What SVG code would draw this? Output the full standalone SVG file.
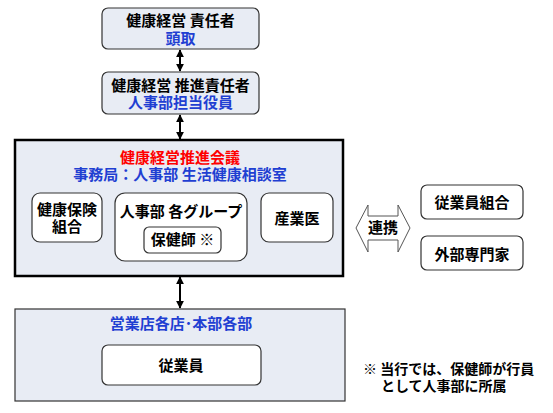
<svg xmlns="http://www.w3.org/2000/svg" width="553" height="413" viewBox="0 0 553 413">
<defs>
<marker id="ah" viewBox="0 0 10 10" refX="9" refY="5" markerWidth="8" markerHeight="8" markerUnits="userSpaceOnUse" orient="auto-start-reverse">
<path d="M0,0 L10,5 L0,10 z" fill="#000"/>
</marker>
</defs>
<style>
text{font-family:"Noto Sans CJK JP","Noto Sans",sans-serif;font-weight:bold;font-size:15px;text-anchor:middle;fill:#000}
.blue{fill:#1f3fd2}
.red{fill:#ff0000}
.tbox{fill:#e8ecf4;stroke:#333;stroke-width:1.2}
.wbox{fill:#fff;stroke:#333;stroke-width:1.2}
.conn{stroke:#000;stroke-width:2;fill:none;marker-start:url(#ah);marker-end:url(#ah)}
</style>
<rect width="553" height="413" fill="#fff"/>
<g id="connectors">
<line class="conn" x1="180" y1="50" x2="180" y2="71"/>
<line class="conn" x1="180" y1="115" x2="180" y2="139"/>
<line class="conn" x1="180" y1="277" x2="180" y2="308"/>
</g>
<g id="n-head">
<rect class="tbox" x="102" y="8" width="157" height="41" rx="6"/>
<text x="180.5" y="26">健康経営 責任者</text>
<text class="blue" x="180.5" y="44">頭取</text>
</g>
<g id="n-promo">
<rect class="tbox" x="102" y="72" width="157" height="42" rx="6"/>
<text x="180.5" y="91">健康経営 推進責任者</text>
<text class="blue" x="180.5" y="108">人事部担当役員</text>
</g>
<g id="n-council">
<rect x="15" y="140" width="328" height="136" fill="#e8ecf4" stroke="#000" stroke-width="2.5"/>
<text class="red" x="180" y="163">健康経営推進会議</text>
<text class="blue" x="180" y="180">事務局：人事部 生活健康相談室</text>
</g>
<g id="n-kenpo">
<rect class="wbox" x="32" y="193" width="70" height="49" rx="8"/>
<text x="67" y="215">健康保険</text>
<text x="67" y="232">組合</text>
</g>
<g id="n-jinji">
<rect class="wbox" x="115" y="193" width="132" height="68" rx="10"/>
<text x="181" y="217">人事部 各グループ</text>
</g>
<g id="n-hokenshi">
<rect class="wbox" x="144" y="227" width="77" height="26" rx="5"/>
<text x="182.5" y="245">保健師 ※</text>
</g>
<g id="n-sangyoi">
<rect class="wbox" x="261" y="193" width="72" height="49" rx="8"/>
<text x="297" y="224">産業医</text>
</g>
<g id="n-renkei">
<path d="M356,228 L368,205 L368,216 L398,216 L398,205 L410,228 L398,252 L398,240 L368,240 L368,252 Z" fill="#fff" stroke="#555" stroke-width="1"/>
<text x="383" y="233">連携</text>
</g>
<g id="n-union">
<rect class="wbox" x="421" y="185" width="102" height="34" rx="6"/>
<text x="472" y="208">従業員組合</text>
</g>
<g id="n-expert">
<rect class="wbox" x="421" y="236" width="102" height="34" rx="6"/>
<text x="472" y="260">外部専門家</text>
</g>
<g id="n-branch">
<rect x="15" y="309" width="330" height="92" fill="#e8ecf4" stroke="#333" stroke-width="1.2"/>
<text class="blue" x="181" y="329">営業店各店･本部各部</text>
</g>
<g id="n-staff">
<rect class="wbox" x="102" y="345" width="159" height="40" rx="6"/>
<text x="181" y="371">従業員</text>
</g>
<g id="note">
<text x="363" y="374" style="text-anchor:start;font-size:14px">※ 当行では、保健師が行員</text>
<text x="381" y="391" style="text-anchor:start;font-size:14px">として人事部に所属</text>
</g>
</svg>
